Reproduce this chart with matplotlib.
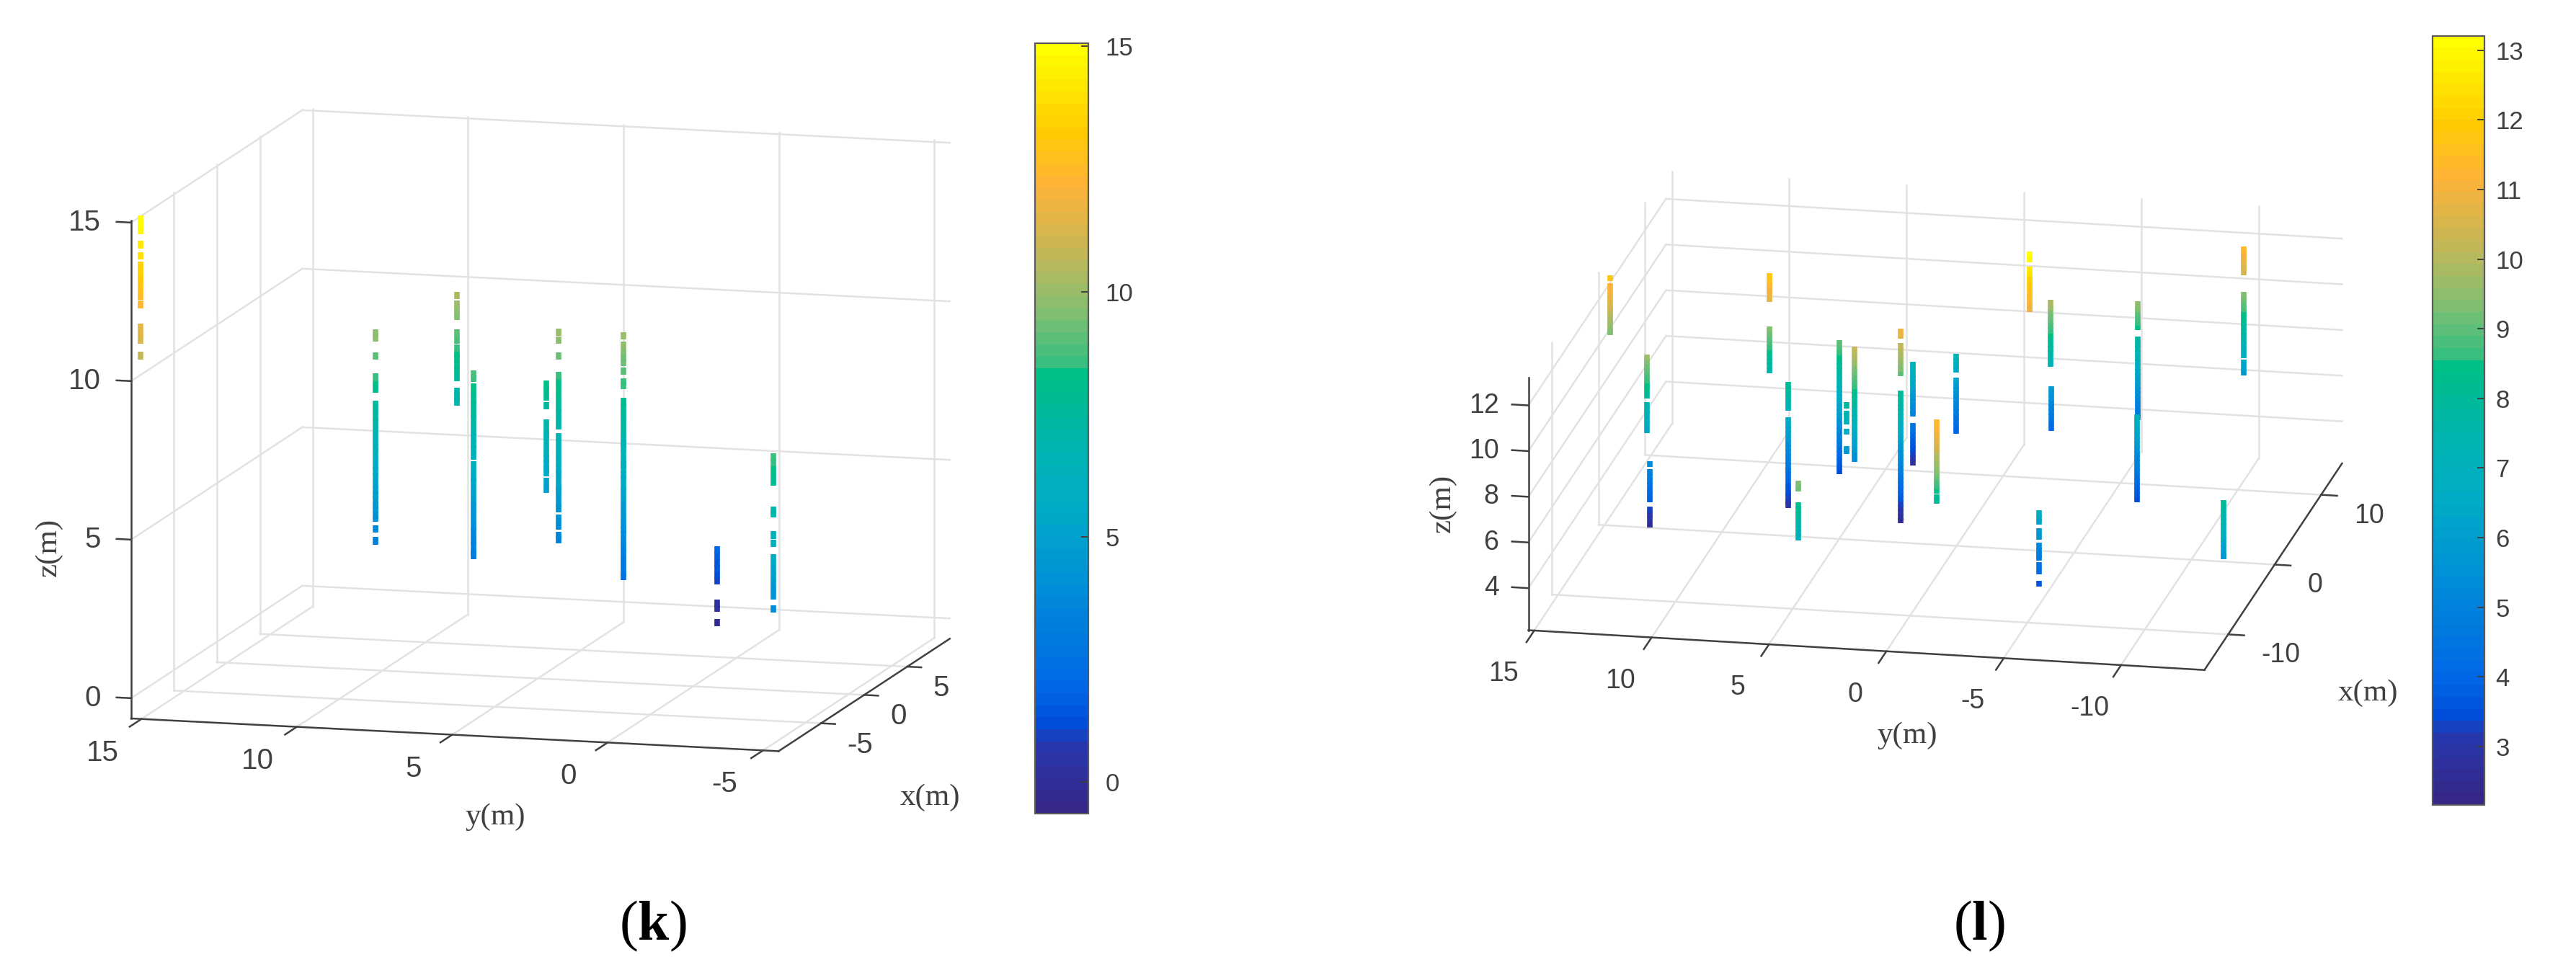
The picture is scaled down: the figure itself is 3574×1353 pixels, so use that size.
import matplotlib
matplotlib.use("Agg")
import matplotlib.pyplot as plt
import numpy as np
from matplotlib.cm import ScalarMappable
from matplotlib.colors import LinearSegmentedColormap, Normalize
from mpl_toolkits.mplot3d import proj3d

W, H = 3574, 1353

plt.rcParams['font.family'] = 'Liberation Sans'
plt.rcParams['mathtext.fontset'] = 'custom'
plt.rcParams['mathtext.rm'] = 'Liberation Serif'
plt.rcParams['mathtext.bf'] = 'Liberation Serif:bold'

# panel (k)
k_xlim = (-9.93, 9.93)
k_ylim = (-5.5, 15.33)
k_zlim = (-0.64, 15.06)
k_xticks = [-5, 0, 5]
k_yticks = [15, 10, 5, 0, -5]
k_zticks = [0, 5, 10, 15]
k_cticks = [0, 5, 10, 15]
k_stem_x = [0.51, 0.76, 5.8, 1.86, 2.23, 1.09, 9.14, -10.19, -9.3]
k_stem_y = [10.37, 7.29, 9.2, 4.85, 5.35, 2.54, 1.76, -5.4, 15.2]
k_stem_z = [
    [9.9, 9.75, 9.17, 8.5, 8.3, 8.13, 7.64, 7.45, 7.25, 7.05, 6.85, 6.65, 6.45, 6.3, 6.12, 5.92, 5.72, 5.55,
     5.38, 5.14, 4.96, 4.8, 4.64, 4.46, 4.34, 4.16, 4.06, 3.72, 3.34],
    [8.7, 8.57, 8.3, 8.1, 7.9, 7.7, 7.5, 7.3, 7.1, 6.9, 6.7, 6.5, 6.33, 6.13, 5.84, 5.64, 5.44, 5.3, 5.1, 4.9,
     4.7, 4.5, 4.3, 4.1, 3.9, 3.7, 3.5, 3.3, 3.1, 3.0],
    [10.2, 9.92, 9.75, 9.55, 9.0, 8.8, 8.54, 8.35, 8.2, 8.0, 7.8, 7.6, 7.18, 7.0, 6.84],
    [9.95, 9.7, 9.2, 8.58, 8.4, 8.2, 8.0, 7.8, 7.6, 7.4, 7.2, 7.0, 6.65, 6.45, 6.25, 6.05, 5.85, 5.65, 5.45,
     5.25, 5.05, 4.95, 4.75, 4.55, 4.4, 4.08, 3.85, 3.55, 3.42],
    [8.23, 8.04, 7.82, 7.55, 7.0, 6.8, 6.64, 6.48, 6.25, 6.05, 5.88, 5.72, 5.55, 5.43, 5.15, 4.92],
    [10.09, 9.8, 9.6, 9.4, 9.25, 8.98, 8.64, 8.52, 8.03, 7.83, 7.63, 7.43, 7.23, 7.03, 6.83, 6.68, 6.58, 6.38,
     6.18, 6.02, 5.9, 5.7, 5.55, 5.35, 5.15, 4.95, 4.75, 4.55, 4.35, 4.15, 3.98, 3.82, 3.62, 3.42, 3.22, 3.02,
     2.82, 2.62, 2.5],
    [1.95, 1.75, 1.55, 1.35, 1.15, 0.96, 0.25, 0.1, -0.35],
    [8.67, 8.5, 8.3, 8.1, 7.9, 7.0, 6.88, 6.22, 5.95, 5.5, 5.3, 5.1, 4.9, 4.7, 4.5, 4.3, 3.88],
    [15, 14.85, 14.65, 14.2, 13.85, 13.55, 13.35, 13.15, 12.95, 12.75, 12.55, 12.3, 11.6, 11.4, 11.2, 10.7],
]

# panel (l)
l_xlim = (-15.1, 14.5)
l_ylim = (-13.55, 15.25)
l_zlim = (2.16, 13.21)
l_xticks = [-10, 0, 10]
l_yticks = [15, 10, 5, 0, -5, -10]
l_zticks = [4, 6, 8, 10, 12]
l_cticks = [3, 4, 5, 6, 7, 8, 9, 10, 11, 12, 13]
l_stem_x = [4.21, 0.05, -1.08, 5.64, 5.56, 1.97, -15.18, 5.42, 0.94, 1.02, 1.67, 8.92, -12.48, 10.21, 6.0, 10.2,
            10.76, 11.78, 12.12, 3.94, -10.48, -9.07, 14.28, 14.27]
l_stem_y = [15.58, 13.2, 12.84, 9.09, 9.07, 7.57, 3.74, 6.07, 4.53, 4.89, 2.71, 3.62, -1.61, 2.04, -1.93, -2.0,
            -1.89, -5.38, -5.31, -6.92, -13.44, -5.31, -9.4, -9.4]
l_stem_z = [
    [11.66, 11.3, 11.1, 10.9, 10.7, 10.5, 10.3, 10.1, 9.9, 9.7, 9.5, 9.3],
    [9.6, 9.4, 9.2, 9.0, 8.8, 8.6, 8.4, 8.22, 7.94, 7.5, 7.3, 7.12, 6.85, 6.67, 6.42],
    [5.3, 4.95, 4.75, 4.55, 4.35, 4.15, 3.95, 3.75, 3.3, 3.1, 2.9, 2.65],
    [11.7, 11.5, 11.3, 11.1, 10.9, 10.7],
    [9.4, 9.2, 9.0, 8.8, 8.6, 8.4, 8.2, 8.0, 7.8, 7.6],
    [8.15, 7.95, 7.75, 7.55, 7.35, 7.15, 6.6, 6.4, 6.2, 6.0, 5.8, 5.6, 5.4, 5.2, 5.0, 4.8, 4.6, 4.4, 4.2, 3.95,
     3.7, 3.45, 3.25, 3.05, 2.9],
    [9.3, 9.1, 8.35, 8.15, 7.95, 7.75, 7.55, 7.35, 7.15, 6.95],
    [9.0, 8.8, 8.6, 8.4, 8.2, 8.0, 7.8, 7.6, 7.4, 7.2, 7.0, 6.8, 6.6, 6.4, 6.2, 6.0, 5.8, 5.6, 5.4, 5.2, 5.0,
     4.8, 4.6, 4.4, 4.2, 4.0, 3.8, 3.6, 3.4],
    [10.2, 10.0, 9.8, 9.6, 9.4, 9.2, 9.0, 8.8, 8.6, 8.4, 8.2, 8.0, 7.8, 7.6, 7.4, 7.2, 7.0, 6.8, 6.6, 6.4, 6.2,
     6.0, 5.8, 5.6, 5.4],
    [7.7, 7.35, 7.25, 7.0, 6.55, 5.8, 5.7],
    [10.85, 10.7, 10.25, 10.05, 9.85, 9.65, 9.45, 9.25, 9.05, 8.15, 7.95, 7.75, 7.55, 7.35, 7.15, 6.95, 6.75,
     6.55, 6.35, 6.15, 5.95, 5.75, 5.55, 5.35, 5.15, 4.95, 4.75, 4.55, 4.35, 4.15, 3.95, 3.75, 3.55, 3.35, 3.15,
     2.95, 2.75, 2.6],
    [7.15, 6.95, 6.75, 6.55, 6.35, 6.15, 5.95, 5.75, 5.55, 5.35, 5.15, 5.0, 4.45, 4.25, 4.05, 3.85, 3.65, 3.45,
     3.25, 3.05, 2.85],
    [11.48, 11.28, 11.08, 10.88, 10.68, 10.48, 10.28, 10.08, 9.88, 9.68, 9.48, 9.28, 9.08, 8.88, 8.68, 8.5, 8.2,
     8.05],
    [7.2, 7.0, 6.8, 6.62, 6.15, 5.95, 5.75, 5.55, 5.35, 5.15, 4.95, 4.75, 4.55, 4.35, 4.15, 3.95],
    [13.2, 13.0, 12.55, 12.35, 12.15, 11.95, 11.75, 11.55, 11.35, 11.15, 10.95, 10.8],
    [9.8, 9.6, 9.4, 9.2, 9.0, 8.8, 8.6, 8.4, 8.2, 8.0, 7.8, 7.6, 7.4, 7.15],
    [5.85, 5.65, 5.45, 5.25, 5.05, 4.85, 4.65, 4.4, 4.15],
    [9.45, 9.25, 9.05, 8.85, 8.65, 8.45],
    [7.8, 7.6, 7.4, 7.2, 7.0, 6.8, 6.6, 6.4, 6.2, 6.0, 5.8, 5.6, 5.4, 5.2, 5.0, 4.8, 4.6, 4.4],
    [7.0, 6.8, 6.6, 6.4, 6.2, 6.0, 5.8, 5.6, 5.4, 5.2, 5.0, 4.8, 4.6, 4.4, 4.2, 4.0, 3.8, 3.6, 3.4],
    [8.05, 7.85, 7.65, 7.45, 7.25, 7.05, 6.85, 6.65, 6.45, 6.25, 6.05, 5.85, 5.72],
    [6.67, 6.47, 6.3, 5.88, 5.65, 5.25, 5.05, 4.85, 4.73, 4.41, 4.15, 3.6],
    [9.34, 9.14, 8.94, 8.74, 8.54, 8.34, 8.14, 7.94, 7.74, 7.54, 7.34, 7.14, 6.94, 6.7, 6.4, 6.15, 5.95],
    [11.33, 11.13, 10.93, 10.73, 10.53, 10.33],
]

stops = [0, .084, .11, .158, .287, .39, .455, .577, .583, .65, .725, .82, .894, 1]
stop_colors = [(.21, .15, .53), (.15, .22, .68), (0, .3, .85), (0, .4, .9), (0, .55, .85), (0, .67, .78), (0, .7, .72),
               (0, .75, .52), (.2, .75, .5), (.5, .75, .45), (.75, .72, .35), (1, .7, .22), (1, .8, 0), (1, 1, 0)]
cmap = LinearSegmentedColormap.from_list('bar', list(zip(stops, stop_colors)), N=64)

GRID = '#e2e2e2'
AXIS = '#404040'


def screen(ax, x, y, z):
    px, py, _ = proj3d.proj_transform(x, y, z, ax.get_proj())
    return px, py


def place_axes(ax, corner, corner_px, scale):
    # size and shift the square 3D axes so one box corner lands on corner_px
    side = 1000
    ax.set_position([0, 0, side / W, side / H])
    x, y, z = corner
    a = ax.transData.transform(screen(ax, x, y, z))
    b = ax.transData.transform(screen(ax, x, y, z + 1))
    side = side * scale / abs(b[1] - a[1])
    ax.set_position([0, 0, side / W, side / H])
    a = ax.transData.transform(screen(ax, x, y, z))
    ax.set_position([(corner_px[0] - a[0]) / W, (H - corner_px[1] - a[1]) / H, side / W, side / H])


def tick_text(ax, x, y, z, s, dx, dy, size, **kw):
    ax.annotate(s, screen(ax, x, y, z), xytext=(dx * 0.72, -dy * 0.72), textcoords='offset points',
                annotation_clip=False, fontsize=size, color=AXIS, **kw)


def draw_panel(rect_corner, scale, elev, azim, xlim, ylim, zlim, xticks, yticks, zticks,
               stem_x, stem_y, stem_z, size, tick_len, z_dx, y_off, x_off, marker_s, marker_w):
    ax = fig.add_subplot(projection='3d', proj_type='ortho')
    ax.set_xlim(xlim, view_margin=0)
    ax.set_ylim(ylim, view_margin=0)
    ax.set_zlim(zlim, view_margin=0)
    ax.set_box_aspect((xlim[1] - xlim[0], ylim[1] - ylim[0], zlim[1] - zlim[0]))
    ax.view_init(elev=elev, azim=azim)
    ax.set_axis_off()
    ax.computed_zorder = False
    place_axes(ax, (xlim[0], ylim[1], zlim[0]), rect_corner, scale)

    gl = dict(color=GRID, lw=1.8, zorder=1)
    for t in zticks:
        ax.plot([xlim[0], xlim[1]], [ylim[1], ylim[1]], [t, t], **gl)
        ax.plot([xlim[1], xlim[1]], [ylim[1], ylim[0]], [t, t], **gl)
    for t in xticks:
        ax.plot([t, t], [ylim[1], ylim[1]], zlim, **gl)
        ax.plot([t, t], [ylim[1], ylim[0]], [zlim[0], zlim[0]], **gl)
    for t in yticks:
        ax.plot([xlim[1], xlim[1]], [t, t], zlim, **gl)
        ax.plot([xlim[0], xlim[1]], [t, t], [zlim[0], zlim[0]], **gl)

    al = dict(color=AXIS, lw=1.8, zorder=2)
    ax.plot([xlim[0], xlim[0]], [ylim[1], ylim[1]], zlim, **al)
    ax.plot([xlim[0], xlim[0]], [ylim[1], ylim[0]], [zlim[0], zlim[0]], **al)
    ax.plot([xlim[0], xlim[1]], [ylim[0], ylim[0]], [zlim[0], zlim[0]], **al)
    for t in zticks:
        ax.plot([xlim[0], xlim[0]], [ylim[1], ylim[1] + tick_len[2]], [t, t], **al)
        tick_text(ax, xlim[0], ylim[1], t, str(t), z_dx, 0, size, ha='right', va='center')
    for t in yticks:
        ax.plot([xlim[0], xlim[0] - tick_len[1]], [t, t], [zlim[0], zlim[0]], **al)
        tick_text(ax, xlim[0], t, zlim[0], str(t), y_off[0], y_off[1], size, ha='center', va='center')
    for t in xticks:
        ax.plot([t, t], [ylim[0], ylim[0] - tick_len[0]], [zlim[0], zlim[0]], **al)
        tick_text(ax, t, ylim[0], zlim[0], str(t), x_off[0], x_off[1], size, ha='left', va='center')

    for sx, sy, sz in zip(stem_x, stem_y, stem_z):
        ax.scatter([sx] * len(sz), [sy] * len(sz), sz, c=sz, cmap=cmap, vmin=zlim[0], vmax=zlim[1],
                   marker='|', s=marker_s, linewidths=marker_w, depthshade=False, zorder=3)
    return ax


def draw_bar(x0, x1, y0, y1, lim, ticks, pad):
    cax = fig.add_axes([x0 / W, 1 - y1 / H, (x1 - x0) / W, (y1 - y0) / H])
    sm = ScalarMappable(norm=Normalize(lim[0], lim[1]), cmap=cmap)
    cb = fig.colorbar(sm, cax=cax, ticks=ticks)
    cb.outline.set_edgecolor('#5a5a5a')
    cb.outline.set_linewidth(1.6)
    cax.tick_params(direction='in', length=7, width=1.4, color='#404040', pad=pad, labelsize=25, labelcolor='#404040')


def ftext(px, py, s, **kw):
    fig.text(px / W, 1 - py / H, s, ha='center', va='center', **kw)


fig = plt.figure(figsize=(W / 100, H / 100), dpi=100, facecolor='white')

draw_panel((182, 997), 44.0, 10.5, 195.5, k_xlim, k_ylim, k_zlim, k_xticks, k_yticks, k_zticks,
           k_stem_x, k_stem_y, k_stem_z, 29, (0.45, 1.37, 0.47), -42, (-54, 47), (36, 30), 55, 5.5)
draw_panel((2120.5, 874.5), 31.7, 17.3, 191.2, l_xlim, l_ylim, l_zlim, l_xticks, l_yticks, l_zticks,
           l_stem_x, l_stem_y, l_stem_z, 27, (0.68, 1.67, 0.7), -41, (-43, 60), (46, 29), 36, 5.5)

draw_bar(1436, 1510, 60, 1129, k_zlim, k_cticks, 17)
draw_bar(3375, 3447, 49.5, 1117, l_zlim, l_cticks, 11)

label_font = dict(family='Liberation Serif', fontsize=31, color='#404040')
ftext(1290, 1107, 'x(m)', **label_font)
ftext(687, 1134, 'y(m)', **label_font)
ftext(68, 759, 'z(m)', rotation=90, **label_font)
ftext(3285, 962, 'x(m)', **label_font)
ftext(2646, 1021, 'y(m)', **label_font)
ftext(2002, 698, 'z(m)', rotation=90, **label_font)

cap_font = dict(family='Liberation Serif', fontsize=56, color='black')
ftext(906, 1285, r'($\mathbf{k}$)', **cap_font)
ftext(2746, 1285, r'($\mathbf{l}$)', **cap_font)

fig.savefig('out.png', dpi=100)
